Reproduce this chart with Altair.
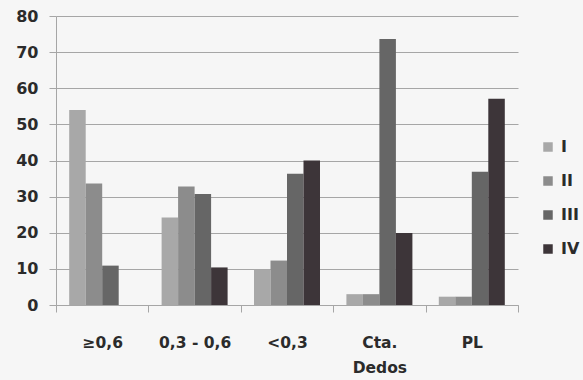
import altair as alt
import pandas as pd

categories = ["≥0,6", "0,3 - 0,6", "<0,3", "Cta. Dedos", "PL"]
series = ["I", "II", "III", "IV"]
values_I = [54.0, 24.2, 9.9, 3.0, 2.3]
values_II = [33.6, 32.8, 12.3, 3.0, 2.3]
values_III = [10.9, 30.7, 36.3, 73.6, 36.9]
values_IV = [0.0, 10.4, 40.0, 19.9, 57.1]
y_ticks = [0, 10, 20, 30, 40, 50, 60, 70, 80]
colors = ["#a8a8a8", "#8c8c8c", "#666666", "#3d3539"]

rows = []
for s, vals in zip(series, [values_I, values_II, values_III, values_IV]):
    for c, v in zip(categories, vals):
        rows.append({"category": c, "series": s, "value": v})
df = pd.DataFrame(rows)

FONT = "DejaVu Sans"
TXT = "#2b2b2b"
GRID = "#a6a6a6"

chart = alt.Chart(df).mark_bar().encode(
    x=alt.X(
        "category:N",
        sort=categories,
        scale=alt.Scale(paddingInner=0, paddingOuter=0),
        axis=alt.Axis(
            title=None,
            labelAngle=0,
            tickBand="extent",
            tickSize=7,
            tickColor=GRID,
            domainColor=GRID,
            labelFont=FONT,
            labelFontSize=15.5,
            labelFontWeight="bold",
            labelColor=TXT,
            labelBaseline="top",
            labelPadding=23,
            labelLineHeight=25,
            labelExpr="datum.label == 'Cta. Dedos' ? ['Cta.', 'Dedos'] : datum.label",
            grid=False,
        ),
    ),
    xOffset=alt.XOffset(
        "series:N", sort=series, scale=alt.Scale(paddingInner=0, paddingOuter=0.8)
    ),
    y=alt.Y(
        "value:Q",
        scale=alt.Scale(domain=[0, 80], nice=False),
        axis=alt.Axis(
            title=None,
            values=y_ticks,
            grid=True,
            gridColor=GRID,
            tickColor=GRID,
            tickSize=7,
            domainColor=GRID,
            labelFont=FONT,
            labelFontSize=16,
            labelFontWeight="bold",
            labelColor=TXT,
            labelPadding=11,
        ),
    ),
    color=alt.Color(
        "series:N",
        scale=alt.Scale(domain=series, range=colors),
        legend=alt.Legend(
            title=None,
            orient="none",
            legendX=484,
            legendY=123,
            symbolType="square",
            symbolSize=90,
            symbolStrokeWidth=0,
            labelFont=FONT,
            labelFontSize=16,
            labelFontWeight="bold",
            labelColor=TXT,
            labelOffset=5,
            rowPadding=18,
        ),
    ),
).properties(
    width=462,
    height=289,
    autosize=alt.AutoSizeParams(type="none"),
    padding={"left": 56, "top": 16, "right": 65, "bottom": 75},
    background="#f6f6f6",
).configure_view(stroke=None)

chart.save("out.html", embed_options={"renderer": "svg", "actions": False})
